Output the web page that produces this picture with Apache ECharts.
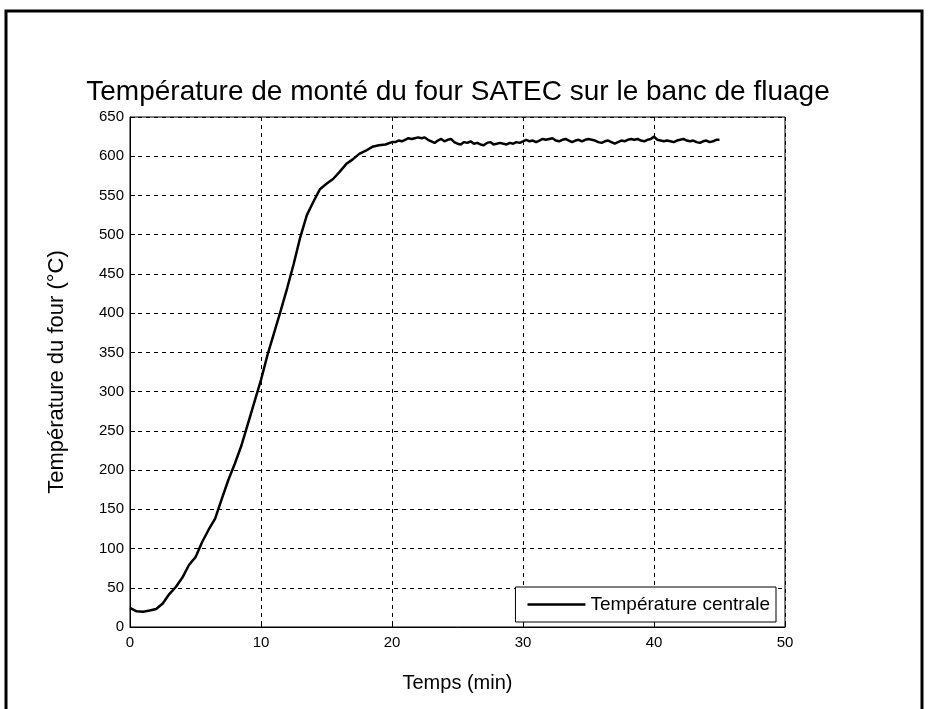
<!DOCTYPE html>
<html>
<head>
<meta charset="utf-8">
<script src="https://cdn.jsdelivr.net/npm/echarts@6/dist/echarts.min.js"></script>
<style>html,body{margin:0;padding:0;background:#fff}#c{width:934px;height:709px}</style>
</head>
<body>
<div id="c"></div>
<script>
const titleText = 'Température de monté du four SATEC sur le banc de fluage';
const xLabel = 'Temps (min)';
const yLabel = 'Température du four (°C)';
const seriesName = 'Température centrale';

// rise phase, every 0.5 min from 0 to 20
const riseTimes = [0,0.5,1,1.5,2,2.5,3,3.5,4,4.5,5,5.5,6,6.5,7,7.5,8,8.5,9,9.5,10,10.5,11,11.5,12,12.5,13,13.5,14,14.5,15,15.5,16,16.5,17,17.5,18,18.5,19,19.5,20];
const riseTemps = [24.5,20,19.5,21,23,30,42,51,63,79,89,108,124,138,163,187,208,231,259,287,315,347,375,403,432,463,497,525,542,558,565,571,580,590,596,603,607,612,614,615,618];

// plateau phase, every 0.25 min from 20.25 to 45
const plateauTimes = [20.25,20.5,20.75,21,21.25,21.5,21.75,22,22.25,22.5,22.75,23,23.25,23.5,23.75,24,24.25,24.5,24.75,25,25.25,25.5,25.75,26,26.25,26.5,26.75,27,27.25,27.5,27.75,28,28.25,28.5,28.75,29,29.25,29.5,29.75,30,30.25,30.5,30.75,31,31.25,31.5,31.75,32,32.25,32.5,32.75,33,33.25,33.5,33.75,34,34.25,34.5,34.75,35,35.25,35.5,35.75,36,36.25,36.5,36.75,37,37.25,37.5,37.75,38,38.25,38.5,38.75,39,39.25,39.5,39.75,40,40.25,40.5,40.75,41,41.25,41.5,41.75,42,42.25,42.5,42.75,43,43.25,43.5,43.75,44,44.25,44.5,44.75,45];
const plateauTemps = [618,620,619,621,623,622,623,624,623,624,621,619,617,620,622,619,621,622,618,616,615,618,617,619,616,617,615,614,617,618,615,616,617,616,615,617,616,618,617,619,621,619,620,618,620,622,621,622,623,620,619,621,622,620,618,620,621,619,621,622,621,620,618,617,619,620,618,616,618,620,619,621,622,621,622,620,619,621,622,625,621,620,619,620,619,618,620,621,622,620,619,620,618,617,619,620,618,619,621,621];

const xTicks = [0,10,20,30,40,50];
const yTicks = [0,50,100,150,200,250,300,350,400,450,500,550,600,650];

const times = riseTimes.concat(plateauTimes);
const temps = riseTemps.concat(plateauTemps);
const points = times.map((t, i) => [t, temps[i]]);

const chart = echarts.init(document.getElementById('c'));
const font = 'Liberation Sans, Arial, sans-serif';
chart.setOption({
  animation: false,
  backgroundColor: '#fff',
  title: {
    text: titleText,
    left: 453, textAlign: 'center', top: 73,
    textStyle: { fontFamily: font, fontSize: 28, fontWeight: 'normal', color: '#000' }
  },
  graphic: [{
    type: 'rect', silent: true, z: 100,
    shape: { x: 6, y: 11, width: 916, height: 760 },
    style: { fill: 'none', stroke: '#000', lineWidth: 3 }
  }],
  grid: { left: 130, right: 149, top: 117, bottom: 82, show: true, borderColor: '#000', borderWidth: 1, backgroundColor: '#fff' },
  legend: {
    data: [{ name: seriesName, icon: 'rect' }],
    right: 158, bottom: 87,
    orient: 'horizontal',
    backgroundColor: '#fff', borderColor: '#000', borderWidth: 1,
    padding: [8, 6, 8, 12],
    itemWidth: 58, itemHeight: 2.5, itemGap: 6,
    textStyle: { fontFamily: font, fontSize: 19, color: '#000' }
  },
  xAxis: {
    type: 'value', min: xTicks[0], max: xTicks[xTicks.length - 1], interval: 10,
    name: xLabel, nameLocation: 'middle', nameGap: 46,
    nameTextStyle: { fontFamily: font, fontSize: 20, color: '#000' },
    axisLine: { show: true, onZero: false, lineStyle: { color: '#000', width: 1 } },
    axisTick: { show: true, inside: true, length: 5, lineStyle: { color: '#000' } },
    axisLabel: { fontFamily: font, fontSize: 15, color: '#000', margin: 8 },
    splitLine: { show: true, lineStyle: { color: '#000', type: [4, 4], width: 1 } }
  },
  yAxis: {
    type: 'value', min: yTicks[0], max: yTicks[yTicks.length - 1], interval: 50,
    name: yLabel, nameLocation: 'middle', nameGap: 62, nameRotate: 90,
    nameTextStyle: { fontFamily: font, fontSize: 22, color: '#000' },
    axisLine: { show: true, lineStyle: { color: '#000', width: 1 } },
    axisTick: { show: true, inside: true, length: 5, lineStyle: { color: '#000' } },
    axisLabel: { fontFamily: font, fontSize: 15, color: '#000', margin: 6 },
    splitLine: { show: true, lineStyle: { color: '#000', type: [4, 4], width: 1 } }
  },
  series: [{
    name: seriesName, type: 'line', data: points,
    symbol: 'none', showSymbol: false,
    lineStyle: { color: '#000', width: 2.5 },
    itemStyle: { color: '#000' }
  }]
});
</script>
</body>
</html>
